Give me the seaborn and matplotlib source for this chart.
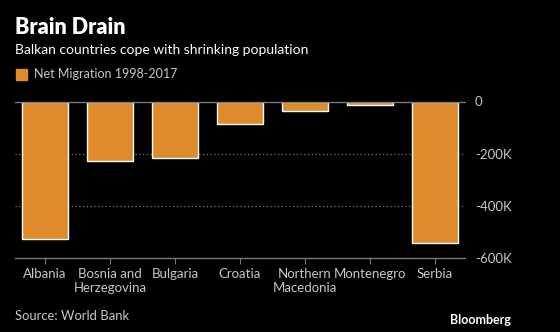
import matplotlib
matplotlib.use("Agg")
import matplotlib.pyplot as plt
import seaborn as sns
import pandas as pd
from matplotlib.ticker import FuncFormatter

countries = ["Albania", "Bosnia and\nHerzegovina", "Bulgaria", "Croatia",
             "Northern\nMacedonia", "Montenegro", "Serbia"]
net_migration = [-526000, -228000, -218000, -85000, -37000, -13000, -543000]
y_ticks = [0, -200000, -400000, -600000]

BG = "#000000"
BAR = "#df8b2b"
GRID = "#7a7a7a"
TXT = "#c8c8c8"

sns.set_theme(style="dark")
plt.rcParams["font.family"] = ["Lato", "DejaVu Sans"]

df = pd.DataFrame({"country": countries, "value": net_migration})

fig = plt.figure(figsize=(5.6, 3.32), dpi=100, facecolor=BG)
ax = fig.add_axes([15 / 560, 1 - 258 / 332, 450 / 560, (258 - 101.5) / 332])
ax.set_facecolor(BG)

sns.barplot(data=df, x="country", y="value", color=BAR, width=0.7,
            saturation=1, ax=ax, zorder=3)

ax.set_xlim(-0.46, 6.46)
ax.set_ylim(-600000, 0)
ax.set_yticks(y_ticks)
ax.yaxis.tick_right()
ax.yaxis.set_major_formatter(FuncFormatter(
    lambda v, p: "0" if v == 0 else f"-{int(abs(v) / 1000)}K"))
ax.tick_params(axis="y", length=0, pad=7, labelsize=9.5, labelcolor=TXT)
ax.tick_params(axis="x", length=4, width=0.8, color=GRID, pad=3,
               labelsize=9.5, labelcolor=TXT, bottom=True)
for lab in ax.get_yticklabels():
    lab.set_horizontalalignment("left")

for s in ["top", "right", "left"]:
    ax.spines[s].set_visible(False)
ax.spines["bottom"].set_color(GRID)
ax.spines["bottom"].set_linewidth(1)

ax.grid(False)
for v in y_ticks[1:-1]:
    ax.axhline(v, color=GRID, lw=0.9, ls=(0, (1, 2)), zorder=1)
ax.axhline(0, color=GRID, lw=1, zorder=4, clip_on=False)

ax.set_xlabel("")
ax.set_ylabel("")

fig.text(15 / 560, 1 - 27 / 332, "Brain Drain", color="white", fontsize=15.5,
         fontweight="heavy", va="center", ha="left")
fig.text(15 / 560, 1 - 50 / 332, "Balkan countries cope with shrinking population",
         color="white", fontsize=10, va="center", ha="left")
fig.patches.append(plt.Rectangle((16 / 560, 1 - 80 / 332), 11 / 560, 11 / 332,
                                 transform=fig.transFigure, color=BAR))
fig.text(34 / 560, 1 - 74.5 / 332, "Net Migration 1998-2017", color=TXT,
         fontsize=9, va="center", ha="left")
fig.text(15 / 560, 1 - 316 / 332, "Source: World Bank", color=TXT,
         fontsize=9.4, va="center", ha="left")
fig.text(511 / 560, 1 - 320 / 332, "Bloomberg", color="white",
         fontsize=9, fontweight="bold", va="center", ha="right")

fig.savefig("out.png", dpi=100, facecolor=BG)
